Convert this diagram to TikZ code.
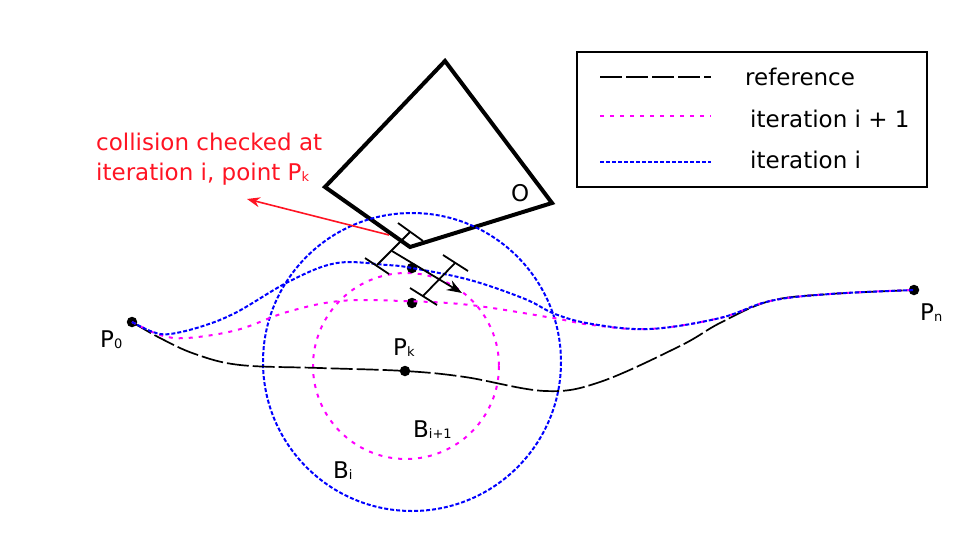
\documentclass[tikz,border=0pt]{standalone}
\usepackage{fontspec}
\setmainfont{DejaVu Sans}
\usetikzlibrary{arrows.meta}
\newcommand\sbs[1]{\raisebox{-1.5pt}{\fontsize{13}{13}\selectfont #1}}
\definecolor{myred}{RGB}{255,20,35}
\definecolor{mymag}{RGB}{255,0,255}
\definecolor{myblue}{RGB}{0,0,255}
\begin{document}
\begin{tikzpicture}[x=1pt,y=-1pt,
  lbl/.style={anchor=base west,inner sep=0pt,font=\fontsize{23}{27}\selectfont},
  refline/.style={black,line width=1.7pt,dash pattern=on 22pt off 4pt},
  bluline/.style={myblue,line width=2pt,dash pattern=on 4pt off 2pt},
  magline/.style={mymag,line width=2pt,dash pattern=on 4pt off 6pt},
  dotpt/.style={circle,fill=black,inner sep=0pt,minimum size=10.5pt},
  robo/.style={black,line width=1.8pt}]
\useasboundingbox (0,0) rectangle (975,544);
% obstacle
\draw[line width=4pt,line join=miter] (445,61) -- (325,187) -- (410,247) -- (552,203) -- cycle;
\node[lbl] (O) at (511,201) {O};
% circles
\coordinate (cBi) at (412,362);
\coordinate (cBj) at (406,366);
\draw[bluline] (cBi) circle[radius=149];
\draw[magline] (cBj) circle[radius=93];
% points
\node[dotpt] (P0) at (132,322) {};
\node[dotpt] (Pn) at (914,290) {};
\node[dotpt] (Pk) at (405,371) {};
\node[dotpt] (Q1) at (412,268) {};
\node[dotpt] (Q2) at (412,303) {};
% reference curve
\draw[refline] plot[smooth,tension=0.6] coordinates {(P0) (160,338) (195,354) (240,365) (320,368) (Pk) (465,377) (545,391) (600,382) (680,346) (720,323) (770,301) (830,294) (Pn)};
% iteration i+1
\draw[magline] plot[smooth,tension=0.6] coordinates {(P0) (160,335) (187,338) (237,330) (287,312) (340,301) (403,301) (470,305) (553,318) (592,325) (650,329) (720,318) (770,301) (830,294) (Pn)};
% iteration i
\draw[bluline] plot[smooth,tension=0.6] coordinates {(P0) (153,332) (170,334) (203,326) (237,312) (290,281) (337,263) (387,265) (Q1) (470,280) (525,299) (555,314) (592,324) (650,329) (720,318) (770,301) (830,294) (Pn)};
% robots
\coordinate (R1) at (392,251);
\coordinate (Rt) at (462,293);
\draw[robo] (398,223) -- (423,241);
\draw[robo] (365,258) -- (389,274);
\draw[robo] (410,232) -- (377,265);
\draw[robo] (443,255) -- (468,271);
\draw[robo] (410,288) -- (437,305);
\draw[robo] (455,263) -- (423,296);
\draw[robo,-{Stealth[length=15pt,width=11pt]}] (R1) -- (Rt);
% red annotation
\coordinate (A1) at (389,235);
\coordinate (A2) at (247,199);
\draw[myred,line width=1.6pt,-{Stealth[length=13pt,width=10pt]}] (A1) -- (A2);
\node[lbl,text=myred] (t1) at (96,150) {collision checked at};
\node[lbl,text=myred] (t2) at (96,180) {iteration i, point P\sbs{k}};
% labels
\node[lbl] (lPk) at (393,355) {P\sbs{k}};
\node[lbl] (lBj) at (413,437) {B\sbs{i+1}};
\node[lbl] (lBi) at (333,478) {B\sbs{i}};
\node[lbl] (lP0) at (100,347) {P\sbs{0}};
\node[lbl] (lPn) at (920,320) {P\sbs{n}};
% legend
\draw[line width=1.6pt] (577,52) rectangle (927,187);
\coordinate (L1a) at (600,77); \coordinate (L1b) at (711,77);
\coordinate (L2a) at (600,116); \coordinate (L2b) at (711,116);
\coordinate (L3a) at (600,162); \coordinate (L3b) at (711,162);
\draw[refline] (L1a) -- (L1b);
\draw[magline] (L2a) -- (L2b);
\draw[bluline] (L3a) -- (L3b);
\node[lbl] (g1) at (745,85) {reference};
\node[lbl] (g2) at (750,127) {iteration i + 1};
\node[lbl] (g3) at (750,168) {iteration i};
\end{tikzpicture}
\end{document}
